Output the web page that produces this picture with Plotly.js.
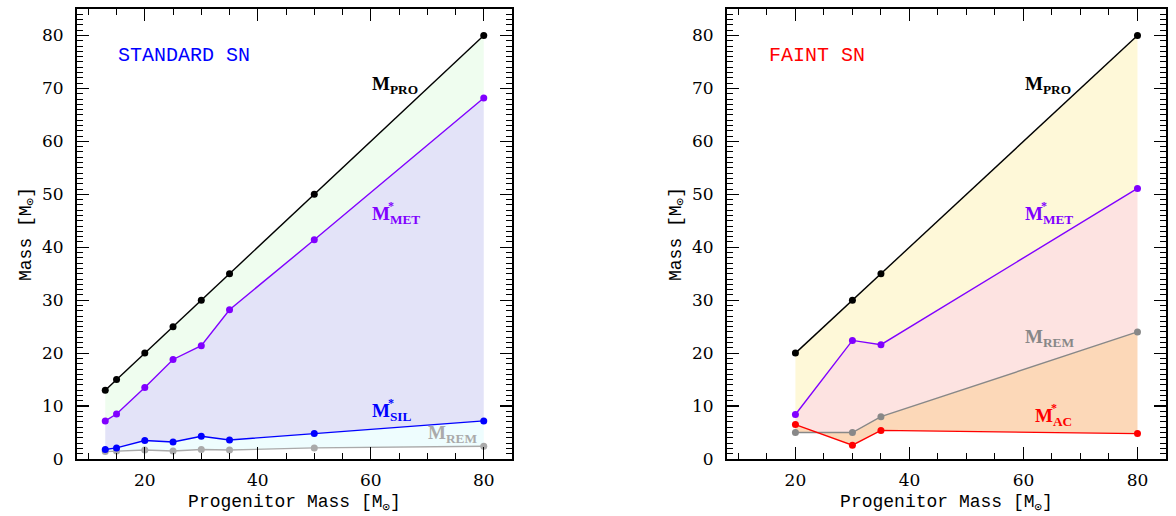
<!DOCTYPE html>
<html>
<head>
<meta charset="utf-8">
<script src="https://cdn.plot.ly/plotly-3.0.1.min.js"></script>
<style>html,body{margin:0;padding:0;background:#fff}#chart{width:1176px;height:516px}</style>
</head>
<body>
<div id="chart"></div>
<script>
// STANDARD SN panel
const stdMass = [13, 15, 20, 25, 30, 35, 50, 80];
const stdPRO  = [13, 15, 20, 25, 30, 35, 50, 80];
const stdMET  = [7.2, 8.5, 13.5, 18.8, 21.4, 28.2, 41.4, 68.2];
const stdSIL  = [1.8, 2.1, 3.5, 3.2, 4.3, 3.6, 4.8, 7.2];
const stdREM  = [1.4, 1.5, 1.7, 1.5, 1.8, 1.7, 2.1, 2.4];
// FAINT SN panel
const fntMass = [20, 30, 35, 80];
const fntPRO  = [20, 30, 35, 80];
const fntMET  = [8.4, 22.4, 21.6, 51.1];
const fntREM  = [5.0, 5.0, 8.0, 24.0];
const fntAC   = [6.5, 2.6, 5.4, 4.8];

const FONT = "'DejaVu Serif', serif";
const MFONT = "'Liberation Mono', monospace";
const LFONT = "'Liberation Serif', serif";

function fill(x, y, color, fillmode, xa, ya) {
  return {x: x, y: y, type: 'scatter', mode: 'lines', line: {width: 0, color: color},
          fill: fillmode, fillcolor: color, xaxis: xa, yaxis: ya, hoverinfo: 'skip', showlegend: false};
}
function line(x, y, color, xa, ya) {
  return {x: x, y: y, type: 'scatter', mode: 'lines+markers', line: {width: 1.4, color: color},
          marker: {size: 7, color: color}, xaxis: xa, yaxis: ya, showlegend: false};
}

const data = [
  fill(stdMass, stdPRO, 'rgba(0,0,0,0)', 'none', 'x', 'y'),
  fill(stdMass, stdMET, '#effdef', 'tonexty', 'x', 'y'),
  fill(stdMass, stdSIL, '#e3e3f8', 'tonexty', 'x', 'y'),
  fill(stdMass, stdREM, '#eefdfe', 'tonexty', 'x', 'y'),
  fill(fntMass, fntPRO, 'rgba(0,0,0,0)', 'none', 'x2', 'y2'),
  fill(fntMass, fntMET, '#fef8d8', 'tonexty', 'x2', 'y2'),
  fill(fntMass, fntREM, '#fde3e1', 'tonexty', 'x2', 'y2'),
  fill(fntMass, fntAC,  '#fcd8b8', 'tonexty', 'x2', 'y2'),
  line(stdMass, stdREM, '#aaaaaa', 'x', 'y'),
  line(stdMass, stdSIL, '#0000ff', 'x', 'y'),
  line(stdMass, stdMET, '#8000ff', 'x', 'y'),
  line(stdMass, stdPRO, '#000000', 'x', 'y'),
  line(fntMass, fntREM, '#888888', 'x2', 'y2'),
  line(fntMass, fntAC,  '#ff0000', 'x2', 'y2'),
  line(fntMass, fntMET, '#8000ff', 'x2', 'y2'),
  line(fntMass, fntPRO, '#000000', 'x2', 'y2')
];

function xaxis(domain, anchor) {
  return {domain: domain, anchor: anchor, range: [8, 85], tickvals: [20, 40, 60, 80],
    ticks: 'inside', ticklen: 12, tickwidth: 1.2, tickcolor: '#000', mirror: 'ticks',
    showline: true, linecolor: '#000', linewidth: 2, showgrid: false, zeroline: false,
    minor: {dtick: 5, tick0: 0, ticks: 'inside', ticklen: 6, tickwidth: 1, tickcolor: '#000'},
    ticklabelstandoff: 5,
    tickfont: {family: FONT, size: 17, color: '#000'},
    title: {text: 'Progenitor Mass [M<sub>⊙</sub>]', font: {family: MFONT, size: 18, color: '#000'}, standoff: 5}};
}
function yaxis(domain, anchor) {
  return {domain: domain, anchor: anchor, range: [0, 85], tickvals: [0, 10, 20, 30, 40, 50, 60, 70, 80],
    ticks: 'inside', ticklen: 12, tickwidth: 1.2, tickcolor: '#000', mirror: 'ticks',
    showline: true, linecolor: '#000', linewidth: 2, showgrid: false, zeroline: false,
    minor: {dtick: 1, tick0: 0, ticks: 'inside', ticklen: 6, tickwidth: 1, tickcolor: '#000'},
    ticklabelstandoff: 8,
    tickfont: {family: FONT, size: 17, color: '#000'},
    title: {text: 'Mass [M<sub>⊙</sub>]', font: {family: MFONT, size: 18, color: '#000'}, standoff: 6}};
}

function lab(xref, yref, x, y, text, color, size) {
  return {xref: xref, yref: yref, x: x, y: y, text: text, showarrow: false, xanchor: 'left', yanchor: 'middle',
          font: {family: LFONT, size: size || 19, color: color}};
}
function star(xref, yref, x, y, color) {
  return {xref: xref, yref: yref, x: x, y: y, text: '<b>*</b>', showarrow: false, xanchor: 'left', yanchor: 'middle',
          xshift: 16, yshift: 9, font: {family: LFONT, size: 12, color: color}};
}

const annotations = [
  {xref: 'x', yref: 'y', x: 14.9, y: 76.2, text: 'STANDARD SN', showarrow: false, xanchor: 'left', yanchor: 'middle',
   font: {family: MFONT, size: 20, color: '#0000ff'}},
  lab('x', 'y', 59.8, 70.6, '<b>M<sub>PRO</sub></b>', '#000'),
  lab('x', 'y', 59.8, 46, '<b>M<sub>MET</sub></b>', '#8000ff'), star('x', 'y', 59.8, 46, '#8000ff'),
  lab('x', 'y', 59.8, 8.9, '<b>M<sub>SIL</sub></b>', '#0000ff'), star('x', 'y', 59.8, 8.9, '#0000ff'),
  lab('x', 'y', 69.8, 4.8, '<b>M<sub>REM</sub></b>', '#aaaaaa'),
  {xref: 'x2', yref: 'y2', x: 15.0, y: 76.2, text: 'FAINT SN', showarrow: false, xanchor: 'left', yanchor: 'middle',
   font: {family: MFONT, size: 20, color: '#ff0000'}},
  lab('x2', 'y2', 60.0, 70.6, '<b>M<sub>PRO</sub></b>', '#000'),
  lab('x2', 'y2', 60.0, 46, '<b>M<sub>MET</sub></b>', '#8000ff'), star('x2', 'y2', 60.0, 46, '#8000ff'),
  lab('x2', 'y2', 60.0, 22.8, '<b>M<sub>REM</sub></b>', '#888888'),
  lab('x2', 'y2', 61.6, 7.9, '<b>M<sub>AC</sub></b>', '#ff0000'), star('x2', 'y2', 61.6, 7.9, '#ff0000')
];

const layout = {
  width: 1176, height: 516, margin: {l: 0, r: 0, t: 9, b: 57},
  paper_bgcolor: '#fff', plot_bgcolor: '#fff', showlegend: false,
  xaxis: xaxis([77 / 1176, 512 / 1176], 'y'),
  yaxis: yaxis([0, 1], 'x'),
  xaxis2: xaxis([727 / 1176, 1166 / 1176], 'y2'),
  yaxis2: yaxis([0, 1], 'x2'),
  annotations: annotations
};

Plotly.newPlot('chart', data, layout, {staticPlot: true});
</script>
</body>
</html>
